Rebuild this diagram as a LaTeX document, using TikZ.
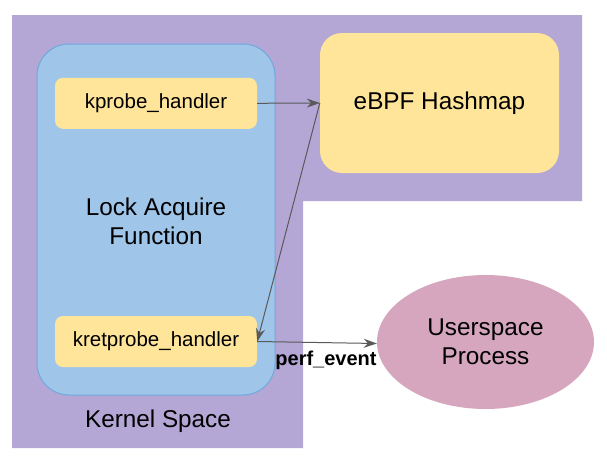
\documentclass[tikz,border=0pt]{standalone}
\usepackage{fontspec}
\setmainfont{Liberation Sans}
\usetikzlibrary{arrows.meta,shapes.geometric}
\definecolor{kspace}{HTML}{B4A7D6}
\definecolor{fnfill}{HTML}{9FC5E8}
\definecolor{fnline}{HTML}{6FA8DC}
\definecolor{hfill}{HTML}{FFE599}
\definecolor{ufill}{HTML}{D5A6BD}
\definecolor{arr}{HTML}{595959}
\tikzset{
  handlerbox/.style={fill=hfill, draw=none, rounded corners=8pt, minimum width=202pt, minimum height=51pt, inner sep=0pt, font=\fontsize{20.5}{24}\selectfont},
  conn/.style={draw=arr, line width=1pt, -{Stealth[length=13pt,width=9pt]}},
  bigtext/.style={font=\fontsize{24.3}{29}\selectfont, align=center},
}
\begin{document}
\begin{tikzpicture}[x=1pt,y=-1pt]
\useasboundingbox (0,0) rectangle (607,463);
% kernel space region
\fill[kspace] (12,15) -- (582,15) -- (582,201) -- (303,201) -- (303,448) -- (12,448) -- cycle;
\node[bigtext] (ks) at (158,421) {Kernel Space};
% lock acquire function
\node[fill=fnfill, draw=fnline, line width=1pt, rounded corners=32pt, minimum width=238pt, minimum height=351pt, inner sep=0pt] (fn) at (156,219.5) {};
\node[bigtext] (fnlabel) at (156,221) {Lock Acquire\\Function};
% handlers
\node[handlerbox] (kp) at (156,103.3) {kprobe\_handler};
\node[handlerbox] (krp) at (156,341.5) {kretprobe\_handler};
% hashmap
\node[fill=hfill, rounded corners=22pt, minimum width=239pt, minimum height=140pt, inner sep=0pt, bigtext] (hm) at (439.5,103) {eBPF Hashmap};
% userspace
\node[ellipse, fill=ufill, minimum width=217pt, minimum height=134pt, inner sep=0pt, bigtext] (us) at (485.5,342) {Userspace\\Process};
% connectors
\draw[conn] (kp.east) -- (hm.west);
\draw[conn] (hm.west) -- (krp.east);
\draw[conn] (krp.east) -- ([yshift=-1.5pt]us.west);
\node[font=\bfseries\fontsize{20}{24}\selectfont] (pe) at (326,360) {perf\_event};
\end{tikzpicture}
\end{document}
